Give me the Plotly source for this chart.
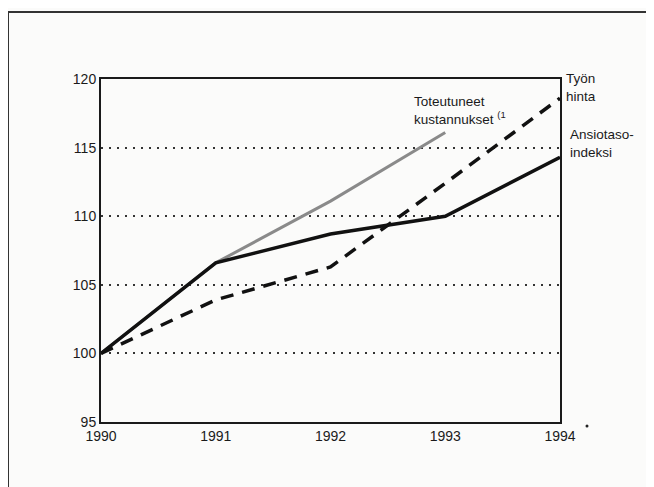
import plotly.graph_objects as go

years = [1990, 1991, 1992, 1993, 1994]
ansiotaso = [100, 106.6, 108.7, 110.0, 114.3]
tyon_hinta = [100, 103.9, 106.3, 112.4, 118.6]
toteutuneet_years = [1990, 1991, 1992, 1993]
toteutuneet = [100, 106.6, 111.1, 116.1]

y_ticks = [95, 100, 105, 110, 115, 120]

# the page body has an 8px margin, so the figure is drawn shifted by OFF
OFF = 8
W, H = 654, 487
L, T = 101 - OFF, 79 - OFF
pw, ph = 459, 343
R, B = W - L - pw, H - T - ph


def px_x(p):
    return (p - OFF - L) / pw


def px_y(p):
    return (H - B - (p - OFF)) / ph


fig = go.Figure()

fig.add_trace(go.Scatter(
    x=toteutuneet_years, y=toteutuneet, mode="lines",
    line=dict(color="#8a8a8a", width=3),
    name="Toteutuneet kustannukset", showlegend=False
))
fig.add_trace(go.Scatter(
    x=years, y=tyon_hinta, mode="lines",
    line=dict(color="#111111", width=3.5, dash="13px,9px"),
    name="Työn hinta", showlegend=False
))
fig.add_trace(go.Scatter(
    x=years, y=ansiotaso, mode="lines",
    line=dict(color="#111111", width=3.5),
    name="Ansiotasoindeksi", showlegend=False
))

font = dict(family="Liberation Sans, Arial, sans-serif", color="#1a1a1a")

fig.update_xaxes(
    range=[1990, 1994], tickvals=years, ticks="", showgrid=False,
    showline=True, linecolor="#1a1a1a", linewidth=2, mirror=True,
    zeroline=False, tickfont=dict(size=14, **font)
)
fig.update_yaxes(
    range=[95, 120], tickvals=y_ticks, ticks="",
    showgrid=True, gridcolor="#333333", gridwidth=1.5, griddash="2px,6px",
    showline=True, linecolor="#1a1a1a", linewidth=2, mirror=True,
    zeroline=False, tickfont=dict(size=14, **font)
)

annotations = [
    dict(x=px_x(412), y=px_y(92), text="Toteutuneet<br>kustannukset <sup>(1</sup>"),
    dict(x=px_x(564), y=px_y(69), text="Työn<br>hinta"),
    dict(x=px_x(568), y=px_y(125), text="Ansiotaso-<br>indeksi"),
]
for a in annotations:
    fig.add_annotation(
        xref="paper", yref="paper", xanchor="left", yanchor="top",
        showarrow=False, align="left", font=dict(size=13.5, **font), **a
    )

# scanned page frame and stray dot
fig.add_shape(type="line", xref="paper", yref="paper",
              x0=px_x(8), x1=px_x(W + 10), y0=px_y(12), y1=px_y(12),
              line=dict(color="#333333", width=2))
fig.add_shape(type="line", xref="paper", yref="paper",
              x0=px_x(8), x1=px_x(8), y0=px_y(12), y1=px_y(H + 10),
              line=dict(color="#333333", width=2))
fig.add_shape(type="circle", xref="paper", yref="paper",
              x0=px_x(585.5), x1=px_x(588.5), y0=px_y(424.5), y1=px_y(427.5),
              fillcolor="#222222", line=dict(width=0))

fig.update_layout(
    width=W, height=H,
    margin=dict(l=L, r=R, t=T, b=B),
    paper_bgcolor="#fbfbfa", plot_bgcolor="#fbfbfa",
    font=font
)

fig.write_html("out.html")
